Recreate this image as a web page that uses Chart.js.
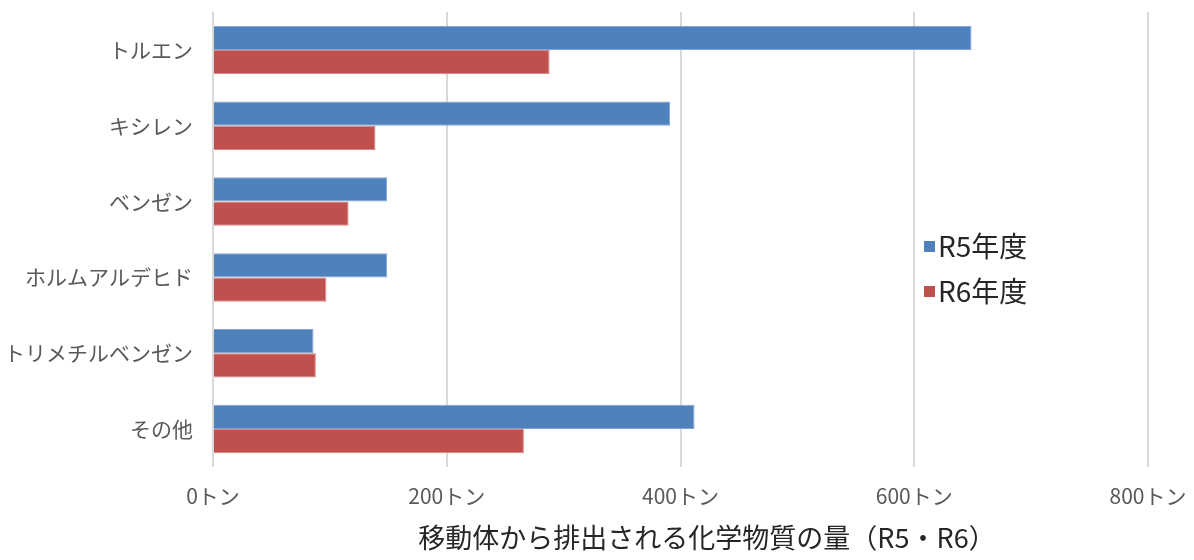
<!DOCTYPE html>
<html>
<head>
<meta charset="utf-8">
<script src="https://cdn.jsdelivr.net/npm/chart.js@4"></script>
<style>
  html, body { margin: 0; padding: 0; background: #fff; }
  #wrap { width: 1194px; height: 560px; }
</style>
</head>
<body>
<div id="wrap"><canvas id="c"></canvas></div>
<script>
// 移動体から排出される化学物質の量
var categories = ['トルエン', 'キシレン', 'ベンゼン', 'ホルムアルデヒド', 'トリメチルベンゼン', 'その他']
var seriesNames = ['R5年度', 'R6年度']
var r5 = [649, 391, 149, 149, 86, 412]
var r6 = [288, 139, 116, 97, 88, 266]
var axisTitle = '移動体から排出される化学物質の量（R5・R6）'

var FONT = '"Noto Sans CJK JP", "Noto Sans", sans-serif'

// 凡例とX軸タイトルはプロット内/下に自前で描く
var extras = {
    id: 'extras',
    afterDraw: function(chart) {
        var ctx = chart.ctx
        ctx.save()
        ctx.font = '28px ' + FONT
        ctx.textBaseline = 'middle'
        chart.data.datasets.forEach(function(ds, i) {
            var y = 246 + i * 45
            ctx.fillStyle = ds.backgroundColor
            ctx.fillRect(924, y - 5, 11, 11)
            ctx.fillStyle = '#262626'
            ctx.textAlign = 'left'
            ctx.fillText(ds.label, 938, y)
        })
        ctx.font = '27px ' + FONT
        ctx.fillStyle = '#262626'
        ctx.textAlign = 'center'
        ctx.fillText(axisTitle, 707, 538)
        ctx.restore()
    }
}

new Chart(document.getElementById('c'), {
    type: 'bar',
    data: {
        labels: categories,
        datasets: [
            { label: seriesNames[0], data: r5, backgroundColor: '#4F81BD', borderColor: '#7FA3D3', borderWidth: 1 },
            { label: seriesNames[1], data: r6, backgroundColor: '#C0504D', borderColor: '#D68684', borderWidth: 1 }
        ]
    },
    options: {
        indexAxis: 'y',
        responsive: true,
        maintainAspectRatio: false,
        animation: false,
        layout: { padding: { top: 12, right: 46, bottom: 0, left: 0 } },
        datasets: { bar: { categoryPercentage: 0.64, barPercentage: 1.0 } },
        plugins: { legend: { display: false }, tooltip: { enabled: false } },
        scales: {
            x: {
                min: 0, max: 800,
                ticks: {
                    stepSize: 200,
                    padding: 16,
                    color: '#595959',
                    font: { family: FONT, size: 21 },
                    callback: function(v) { return v + 'トン' }
                },
                grid: { color: '#d9d9d9', lineWidth: 2, drawTicks: false },
                border: { display: false },
                afterFit: function(s) { s.height = 93; s.paddingLeft = 0; s.paddingRight = 0 }
            },
            y: {
                ticks: {
                    padding: 20,
                    color: '#595959',
                    font: { family: FONT, size: 21 }
                },
                grid: { display: false, drawTicks: false },
                border: { display: false },
                afterFit: function(s) { s.width = 213; s.paddingTop = 0; s.paddingBottom = 0 }
            }
        }
    },
    plugins: [extras]
})
</script>
</body>
</html>
